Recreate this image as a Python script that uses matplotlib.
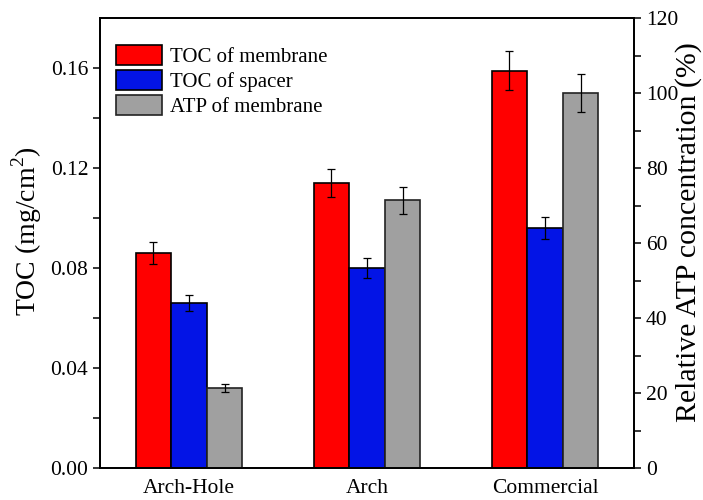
import matplotlib
matplotlib.use("Agg")
import matplotlib.pyplot as plt
import numpy as np

plt.rcParams['font.family'] = ['Liberation Serif', 'DejaVu Serif']
plt.rcParams['mathtext.fontset'] = 'custom'
plt.rcParams['mathtext.rm'] = 'Liberation Serif'

categories = ["Arch-Hole", "Arch", "Commercial"]
toc_membrane = [0.086, 0.114, 0.159]
toc_membrane_err = [0.0043, 0.0056, 0.0079]
toc_spacer = [0.066, 0.080, 0.096]
toc_spacer_err = [0.0033, 0.0040, 0.0046]
atp_membrane = [21.3, 71.4, 100.0]
atp_membrane_err = [1.1, 3.6, 5.0]

left_ticks = [0.00, 0.04, 0.08, 0.12, 0.16]
right_ticks = [0, 20, 40, 60, 80, 100, 120]

red = "#FF0000"
blue = "#0314E6"
gray = "#A0A0A0"

fig = plt.figure(figsize=(7.03, 5.0), dpi=100)
ax = fig.add_axes([100 / 703, 32 / 500, 534 / 703, 450 / 500])
ax2 = ax.twinx()

x = np.arange(len(categories))
w = 0.2
err_kw = dict(ecolor="black", elinewidth=0.9, capsize=3, capthick=0.9)

b1 = ax.bar(x - w, toc_membrane, w, color=red, edgecolor="black", linewidth=1.2,
            yerr=toc_membrane_err, error_kw=err_kw, label="TOC of membrane", zorder=2)
b2 = ax.bar(x, toc_spacer, w, color=blue, edgecolor="black", linewidth=1.2,
            yerr=toc_spacer_err, error_kw=err_kw, label="TOC of spacer", zorder=2)
b3 = ax2.bar(x + w, atp_membrane, w, color=gray, edgecolor="#222222", linewidth=1.2,
             yerr=atp_membrane_err, error_kw=err_kw, label="ATP of membrane", zorder=2)

ax.set_xlim(-0.5, 2.5)
ax.set_ylim(0, 0.18)
ax2.set_ylim(0, 120)

ax.set_yticks(left_ticks)
ax.set_yticklabels([f"{t:.2f}" for t in left_ticks])
ax.set_yticks(np.arange(0.02, 0.18, 0.04), minor=True)
ax2.set_yticks(right_ticks)
ax2.set_yticks(np.arange(10, 120, 20), minor=True)

ax.set_xticks(x)
ax.set_xticklabels(categories)

for a in (ax, ax2):
    for s in a.spines.values():
        s.set_linewidth(1.3)
    a.tick_params(axis="y", which="major", length=5, width=1.1, labelsize=15.5, direction="out")
    a.tick_params(axis="y", which="minor", length=5, width=1.1, direction="out")
ax.tick_params(axis="x", length=0, labelsize=15.5, pad=8)

ax.set_ylabel("TOC (mg/cm$^2$)", fontsize=20)
ax2.set_ylabel("Relative ATP concentration (%)", fontsize=21.5)
ax.yaxis.set_label_coords(-0.105, 0.527)
ax2.yaxis.set_label_coords(1.077, 0.524)

ax.legend(handles=[b1, b2, b3], loc="upper left", bbox_to_anchor=(0.03, 0.94),
          frameon=False, fontsize=15, handlelength=2.2, handleheight=1.1,
          handletextpad=0.37, labelspacing=0.14, borderaxespad=0.0, borderpad=0.0)

fig.savefig("out.png", dpi=100)
